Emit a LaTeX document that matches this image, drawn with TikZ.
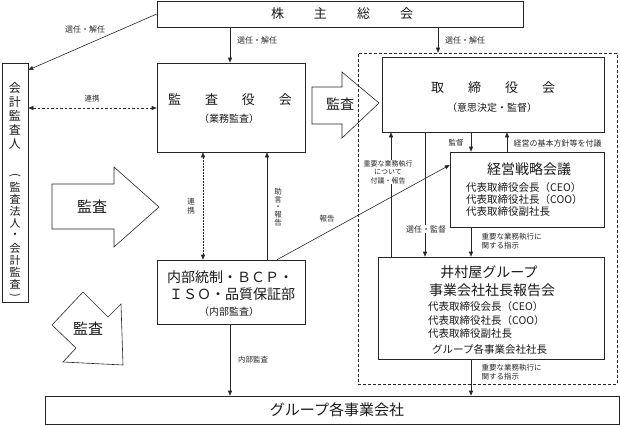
\documentclass[tikz,border=0pt]{standalone}
\usepackage{fontspec}
\setmainfont{Noto Sans CJK JP}
\usetikzlibrary{arrows.meta,calc}
\newcommand\jfs[1]{\fontsize{#1}{#1}\selectfont}
\begin{document}
\begin{tikzpicture}[x=1pt,y=-1pt,
  box/.style={draw=black!85,line width=0.6pt,inner sep=0pt},
  arr/.style={draw=black!85,line width=0.6pt,-{Triangle[length=5pt,width=4pt]}},
  darr/.style={draw=black!85,line width=0.6pt,{Triangle[length=5pt,width=4pt]}-{Triangle[length=5pt,width=4pt]},dash pattern=on 2.5pt off 2pt},
  lbl/.style={font=\fontsize{7.5}{9}\selectfont,inner sep=0.5pt,text=black!85},
  big/.style={draw=black!85,line width=0.6pt,line join=miter},
  txt/.style={inner sep=0pt,text=black!90},
]
\useasboundingbox (0,0) rectangle (620,425);
% column / row coordinates
\coordinate (c203) at (203,0);
\coordinate (c230) at (230,0);
\coordinate (c267) at (267,0);
\coordinate (c277) at (277,0);
\coordinate (c391) at (391,0);
\coordinate (c425) at (425,0);
\coordinate (c438) at (438,0);
\coordinate (c471) at (471,0);
\coordinate (c507) at (507,0);
\coordinate (r70) at (0,70);
\coordinate (r108) at (0,108);
\coordinate (r165) at (0,165);
% boxes
\node[box,minimum width=366pt,minimum height=26pt] (kabu) at (340,14) {};
\node[box,minimum width=26pt,minimum height=239pt] (kaikei) at (15,182.5) {};
\node[box,minimum width=148pt,minimum height=89pt] (kansa) at (231,107.5) {};
\node[box,dash pattern=on 3pt off 2pt,minimum width=259pt,minimum height=331pt] (outer) at (487.5,218.5) {};
\node[box,minimum width=222pt,minimum height=75pt] (board) at (493,94.5) {};
\node[box,minimum width=154pt,minimum height=75pt] (keiei) at (527,189.5) {};
\node[box,minimum width=148pt,minimum height=64pt] (naibu) at (231,292) {};
\node[box,minimum width=226pt,minimum height=102pt] (imura) at (491,308) {};
\node[box,minimum width=574pt,minimum height=28pt] (group) at (332,410) {};
% texts
\node[txt,font=\jfs{13}] (t1) at (342,14) {株\hspace{30pt}主\hspace{30pt}総\hspace{30pt}会};
\node[txt,font=\jfs{13}] (t2) at (230,100) {監\hspace{24pt}査\hspace{24pt}役\hspace{24pt}会};
\node[txt,font=\jfs{10}] (t3) at (229,119) {（業務監査）};
\node[txt,font=\jfs{13}] (t4) at (493,88) {取\hspace{24pt}締\hspace{24pt}役\hspace{24pt}会};
\node[txt,font=\jfs{10}] (t5) at (492,108) {（意思決定・監督）};
\node[txt,font=\jfs{14}] (t6) at (529,169) {経営戦略会議};
\node[txt,font=\jfs{10.5},anchor=west] (t7) at (466,188) {代表取締役会長（CEO）};
\node[txt,font=\jfs{10.5},anchor=west] (t8) at (466,200) {代表取締役社長（COO）};
\node[txt,font=\jfs{10.5},anchor=west] (t9) at (466,212) {代表取締役副社長};
\node[txt,font=\jfs{14}] (t10) at (230,277) {内部統制・ＢＣＰ・};
\node[txt,font=\jfs{14}] (t11) at (232,294) {ＩＳＯ・品質保証部};
\node[txt,font=\jfs{10}] (t12) at (229,312) {（内部監査）};
\node[txt,font=\jfs{14}] (t13) at (489,272) {井村屋グループ};
\node[txt,font=\jfs{14}] (t14) at (492,290) {事業会社社長報告会};
\node[txt,font=\jfs{10.5},anchor=west] (t15) at (428,307) {代表取締役会長（CEO）};
\node[txt,font=\jfs{10.5},anchor=west] (t16) at (428,320.5) {代表取締役社長（COO）};
\node[txt,font=\jfs{10.5},anchor=west] (t17) at (428,334) {代表取締役副社長};
\node[txt,font=\jfs{10.5},anchor=west] (t18) at (432,349) {グループ各事業会社社長};
\node[txt,font=\jfs{15}] (t19) at (337,410) {グループ各事業会社};
% vertical text of auditor box
\foreach \c [count=\i] in {会,計,監,査,人}
  \node[txt,font=\jfs{12}] (ka\i) at (15,{88+14*(\i-1)}) {\c};
\node[txt,font=\jfs{11},rotate=-90] (kp1) at (15,175) {(};
\foreach \c [count=\i] in {監,査,法,人,・,会,計,監,査}
  \node[txt,font=\jfs{11}] (kb\i) at (15,{187+12.2*(\i-1)}) {\c};
\node[txt,font=\jfs{11},rotate=-90] (kp2) at (15,295) {)};
% big audit arrows
\draw[big] (312,87) -- (342,87) -- (342,72) -- (379,103) -- (342,138) -- (342,124) -- (312,124) -- cycle;
\node[txt,font=\jfs{14}] (a1) at (340,104) {監査};
\draw[big] (52,184) -- (114,184) -- (114,167) -- (159,207) -- (114,247) -- (114,229) -- (52,229) -- cycle;
\node[txt,font=\jfs{15}] (a2) at (92,207) {監査};
\draw[big] (52,325) -- (83,292) -- (108,317) -- (121,304) -- (123,365) -- (63,362) -- (76,348) -- cycle;
\node[txt,font=\jfs{15}] (a3) at (88,329) {監査};
% connectors
\draw[arr] (kabu.west) -- (kaikei.east |- r70);
\node[lbl,font=\fontsize{8}{9}\selectfont] (l1) at (85,29) {選任・解任};
\draw[arr] (c230 |- kabu.south) -- (c230 |- kansa.north);
\node[lbl,font=\fontsize{8}{9}\selectfont] (l2) at (257,40) {選任・解任};
\draw[arr] (c438 |- kabu.south) -- (c438 |- outer.north);
\node[lbl,font=\fontsize{8}{9}\selectfont] (l3) at (465,40) {選任・解任};
\draw[darr] (kaikei.east |- r108) -- (kansa.west |- r108);
\node[lbl] (l4) at (92,99) {連携};
\draw[darr,dash pattern=on 1.5pt off 1.5pt] (c203 |- kansa.south) -- (c203 |- naibu.north);
\node[lbl,align=center] (l5) at (191,206) {連\\携};
\draw[arr] (c267 |- naibu.north) -- (c267 |- kansa.south);
\node[lbl,align=center,font=\fontsize{7.5}{7.8}\selectfont] (l6) at (278,207) {助\\言\\・\\報\\告};
\draw[arr] (c277 |- naibu.north) -- (keiei.west |- r165);
\node[lbl] (l7) at (327,219) {報告};
\draw[arr] (c230 |- naibu.south) -- (c230 |- group.north);
\node[lbl] (l8) at (253,360) {内部監査};
\draw[arr] (c471 |- board.south) -- (c471 |- keiei.north);
\node[lbl] (l9) at (456,143) {監督};
\draw[arr] (c507 |- keiei.north) -- (c507 |- board.south);
\node[lbl,anchor=west,font=\fontsize{8}{9}\selectfont] (l10) at (513,143) {経営の基本方針等を付議};
\draw[arr] (c391 |- imura.north) -- (c391 |- board.south);
\node[lbl,align=center,fill=white,font=\fontsize{7}{8.5}\selectfont] (l11) at (388,172) {重要な業務執行\\について\\付議・報告};
\draw[arr] (c425 |- board.south) -- (c425 |- imura.north);
\node[lbl,fill=white,font=\fontsize{8}{9}\selectfont] (l12) at (426,229) {選任・監督};
\draw[arr] (c471 |- keiei.south) -- (c471 |- imura.north);
\node[lbl,anchor=west,align=left] (l13) at (481,241) {重要な業務執行に\\関する指示};
\draw[arr] (c471 |- imura.south) -- (c471 |- group.north);
\node[lbl,anchor=west,align=left] (l14) at (481,372) {重要な業務執行に\\関する指示};
\end{tikzpicture}
\end{document}
